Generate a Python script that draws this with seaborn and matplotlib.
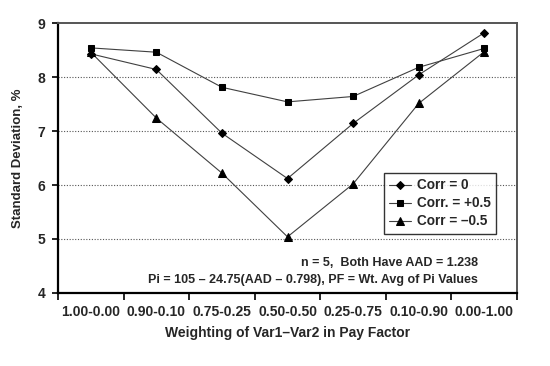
import numpy as np
import pandas as pd
import matplotlib
matplotlib.use("Agg")
import matplotlib.pyplot as plt
import seaborn as sns
from matplotlib.ticker import FixedLocator

weightings = ["1.00-0.00", "0.90-0.10", "0.75-0.25", "0.50-0.50",
              "0.25-0.75", "0.10-0.90", "0.00-1.00"]
corr_zero = [8.43, 8.14, 6.96, 6.12, 7.14, 8.04, 8.82]
corr_plus = [8.54, 8.46, 7.81, 7.54, 7.64, 8.18, 8.53]
corr_minus = [8.46, 7.24, 6.22, 5.04, 6.02, 7.51, 8.47]
series_labels = ["Corr = 0", "Corr. = +0.5", "Corr = \u20130.5"]

sns.set_style("white")
plt.rcParams['font.family'] = ['Liberation Sans', 'DejaVu Sans']
plt.rcParams['font.weight'] = 'bold'

fig = plt.figure(figsize=(5.5, 3.66), dpi=100)
ax = fig.add_axes([0.1055, 0.1995, 0.8345, 0.7375])

pos = np.arange(len(weightings))
markers = ["D", "s", "^"]
msizes = [4.5, 5, 6]
for vals, lab, mk, ms in zip([corr_zero, corr_plus, corr_minus], series_labels, markers, msizes):
    sns.lineplot(x=pos, y=vals, ax=ax, label=lab, color="#404040", linewidth=0.8,
                 marker=mk, markersize=ms, markerfacecolor="black",
                 markeredgecolor="black", sort=False)

ax.set_xlim(-0.5, len(weightings) - 0.5)
ax.set_ylim(4, 9)
ax.set_yticks([4, 5, 6, 7, 8, 9])
ax.set_xticks(pos)
ax.set_xticklabels(weightings, fontsize=10, fontweight='bold')
ax.xaxis.set_minor_locator(FixedLocator(np.arange(-0.5, len(weightings), 1.0)))
ax.tick_params(axis='x', which='major', length=0, pad=9)
ax.tick_params(axis='x', which='minor', length=5, width=1.2, direction='out', color='black', bottom=True)
ax.tick_params(axis='y', length=4, width=1.2, direction='out', color='black', left=True, labelsize=10, pad=5)
for t in ax.get_yticklabels():
    t.set_fontweight('bold')

for y in [5, 6, 7, 8]:
    ax.axhline(y, color='#555555', linestyle=(0, (1, 1.5)), linewidth=0.8, zorder=0)

for side in ['left', 'bottom']:
    ax.spines[side].set_color('black')
    ax.spines[side].set_linewidth(1.6)
for side in ['top', 'right']:
    ax.spines[side].set_color('#555555')
    ax.spines[side].set_linewidth(1.4)

ax.set_xlabel("Weighting of Var1\u2013Var2 in Pay Factor", fontsize=10, fontweight='bold', labelpad=5)
ax.set_ylabel("Standard Deviation, %", fontsize=9.5, fontweight='bold', labelpad=10)

ax.text(0.915, 0.11, "n = 5,  Both Have AAD = 1.238", transform=ax.transAxes,
        ha='right', va='center', fontsize=9, fontweight='bold')
ax.text(0.915, 0.048, "Pi = 105 \u2013 24.75(AAD \u2013 0.798), PF = Wt. Avg of Pi Values",
        transform=ax.transAxes, ha='right', va='center', fontsize=9, fontweight='bold')

leg = ax.legend(loc='upper left', bbox_to_anchor=(0.71, 0.445), frameon=True, fancybox=False,
                fontsize=9.8, handlelength=1.6, handletextpad=0.4, borderpad=0.4,
                labelspacing=0.3, borderaxespad=0)
leg.get_frame().set_edgecolor('black')
leg.get_frame().set_linewidth(1.0)
for t in leg.get_texts():
    t.set_fontweight('bold')

fig.savefig("out.png", dpi=100, facecolor='white')
